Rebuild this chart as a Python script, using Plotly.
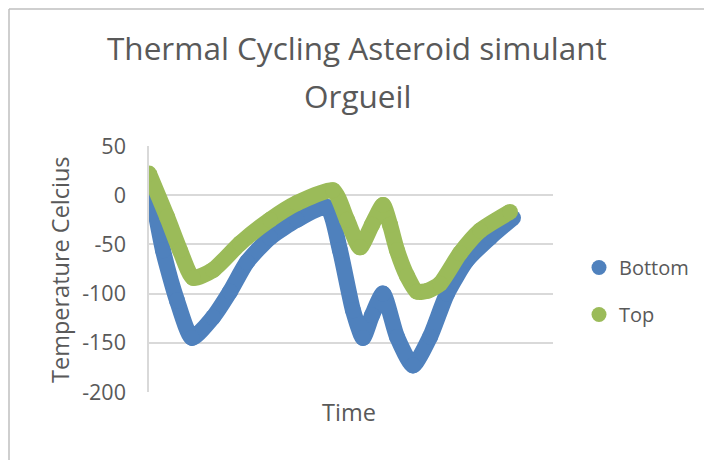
import plotly.graph_objects as go

# Time (arbitrary units, sample positions)
bottom_time = [0, 14, 28, 43, 64, 81, 98, 121, 148, 178, 191, 204, 214, 223, 234, 248, 264, 281, 298, 318, 341, 364]
bottom_temp = [18, -56, -107, -145, -124, -98, -68, -43, -25, -12, -56, -117, -145, -122, -100, -144, -173, -144, -100, -66, -43, -23]

top_time = [0, 18, 31, 44, 64, 91, 121, 148, 184, 198, 211, 223, 234, 241, 248, 258, 268, 279, 291, 311, 331, 361]
top_temp = [22, -22, -56, -84, -76, -49, -25, -8, 5, -25, -53, -30, -10, -30, -56, -82, -98, -97, -90, -59, -36, -17]

series_names = ["Bottom", "Top"]
colors = ["#4F81BD", "#9BBB59"]
y_ticks = [50, 0, -50, -100, -150, -200]
y_tick_text = ["50", "0", "-50", "-100", "-150", "-200"]

TEXT = "#595959"
GRID = "#D9D9D9"
FONT = "Open Sans"
W = 16

# page body adds an 8px offset; plot area in screen px: x 149..553, y 146..392
OFF = 8
L, T, PW, PH = 149 - OFF, 146 - OFF, 404, 246

def px(x):
    return (x - 149) / PW

def py(y):
    return (392 - y) / PH

fig = go.Figure()
for t, v, name, c, grp in [(bottom_time, bottom_temp, series_names[0], colors[0], "b"),
                           (top_time, top_temp, series_names[1], colors[1], "t")]:
    fig.add_trace(go.Scatter(x=t, y=v, mode="lines+markers", name=name,
                             line=dict(color=c, width=W, shape="spline", smoothing=0.6),
                             marker=dict(color=c, size=W, line=dict(width=0)),
                             showlegend=False, hoverinfo="skip"))
    fig.add_trace(go.Scatter(x=[None], y=[None], mode="markers", name=name,
                             legendgroup=grp,
                             marker=dict(color=c, size=15), showlegend=True))

fig.update_layout(
    width=712, height=460,
    margin=dict(l=L, r=712 - L - PW, t=T, b=460 - T - PH),
    paper_bgcolor="white", plot_bgcolor="white",
    font=dict(family=FONT, color=TEXT, size=19),
    xaxis=dict(range=[0, 404], showticklabels=False, showgrid=False,
               zeroline=False, showline=False, fixedrange=True, automargin=False),
    yaxis=dict(range=[-200, 50], tickvals=y_ticks, ticktext=y_tick_text, showgrid=True,
               gridcolor=GRID, gridwidth=1.5, zeroline=False,
               showline=True, linecolor=GRID, linewidth=1.5, automargin=False,
               tickfont=dict(size=21.5, color=TEXT, family=FONT),
               ticklabelstandoff=17),
    legend=dict(xref="container", yref="container", x=571 / 712, y=1 - 240 / 460,
                xanchor="left", yanchor="top",
                font=dict(size=20, color=TEXT), traceorder="grouped",
                tracegroupgap=18, itemwidth=30, bgcolor="rgba(0,0,0,0)"),
    annotations=[
        dict(text="Thermal Cycling Asteroid simulant", xref="paper", yref="paper",
             x=px(357), y=py(48), xanchor="center", yanchor="middle",
             showarrow=False, font=dict(size=31.5, color=TEXT, family=FONT)),
        dict(text="Orgueil", xref="paper", yref="paper",
             x=px(357), y=py(95), xanchor="center", yanchor="middle",
             showarrow=False, font=dict(size=31.5, color=TEXT, family=FONT)),
        dict(text="Temperature Celcius", xref="paper", yref="paper",
             x=px(60), y=py(270), xanchor="center", yanchor="middle",
             textangle=-90, showarrow=False, font=dict(size=23.5, color=TEXT, family=FONT)),
        dict(text="Time", xref="paper", yref="paper",
             x=px(349), y=py(412), xanchor="center", yanchor="middle",
             showarrow=False, font=dict(size=23.5, color=TEXT, family=FONT)),
    ],
    shapes=[
        dict(type="line", xref="paper", yref="paper",
             x0=px(9), x1=px(720), y0=py(9), y1=py(9),
             line=dict(color="#BFBFBF", width=1.5)),
        dict(type="line", xref="paper", yref="paper",
             x0=px(9), x1=px(9), y0=py(9), y1=py(470),
             line=dict(color="#BFBFBF", width=1.5)),
    ],
)

fig.write_html("out.html")
